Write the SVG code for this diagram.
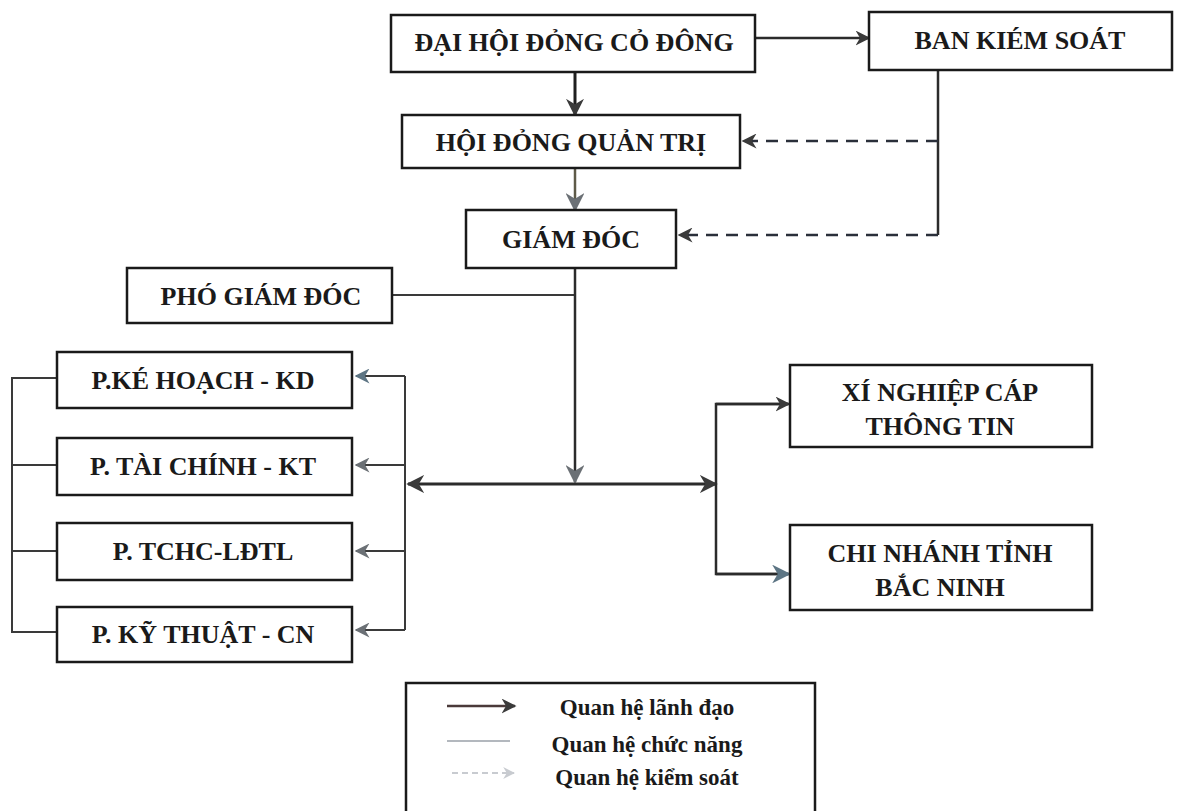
<svg xmlns="http://www.w3.org/2000/svg" width="1178" height="811" viewBox="0 0 1178 811">
<defs>
<style>
.box{fill:#fff;stroke:#1a1a1a;stroke-width:2.5}
.t{font-family:"Liberation Serif","DejaVu Serif",serif;font-weight:bold;font-size:26px;fill:#1a1a1a;text-anchor:middle}
.lg{font-family:"Liberation Serif","DejaVu Serif",serif;font-weight:bold;font-size:23px;fill:#1a1a1a;text-anchor:middle}
.ln{fill:none;stroke:#2b2b2b;stroke-width:2.5}
.fn{fill:none;stroke:#3a3a3a;stroke-width:2}
.ds{fill:none;stroke:#2a2f3a;stroke-width:2.5;stroke-dasharray:12 8}
</style>
<marker id="a" viewBox="0 0 10 10" refX="9" refY="5" markerWidth="6" markerHeight="6" orient="auto" markerUnits="strokeWidth"><path d="M0,0 L10,5 L0,10 L3,5 z" fill="#3a3a3a"/></marker>
<marker id="ag" viewBox="0 0 10 10" refX="9" refY="5" markerWidth="7.5" markerHeight="7.5" orient="auto" markerUnits="strokeWidth"><path d="M0,0 L10,5 L0,10 L3,5 z" fill="#6b7075"/></marker>
<marker id="ab" viewBox="0 0 10 10" refX="9" refY="5" markerWidth="7.5" markerHeight="7.5" orient="auto" markerUnits="strokeWidth"><path d="M0,0 L10,5 L0,10 L3,5 z" fill="#5d7584"/></marker>
<marker id="al" viewBox="0 0 10 10" refX="9" refY="5" markerWidth="6" markerHeight="6" orient="auto" markerUnits="strokeWidth"><path d="M0,0 L10,5 L0,10 L3,5 z" fill="#c8cbd0"/></marker>
</defs>
<rect width="1178" height="811" fill="#fff"/>
<g id="connectors">
<line class="ln" x1="755" y1="38" x2="869" y2="38" marker-end="url(#a)"/>
<line class="ln" x1="575" y1="72" x2="575" y2="115" marker-end="url(#a)" style="stroke:#1f1f1f;stroke-width:3"/>
<line class="ln" x1="575" y1="168" x2="575" y2="210" marker-end="url(#ag)" style="stroke:#5e5a48"/>
<polyline class="ln" points="938,70 938,235"/>
<line class="ds" x1="938" y1="141" x2="743" y2="141" marker-end="url(#a)"/>
<line class="ds" x1="938" y1="235" x2="679" y2="235" marker-end="url(#a)"/>
<line class="fn" x1="392" y1="295" x2="575" y2="295"/>
<line class="ln" x1="575" y1="268" x2="575" y2="482" marker-end="url(#ag)"/>
<line class="ln" x1="575" y1="484" x2="408" y2="484" marker-end="url(#a)" style="stroke-width:3"/>
<line class="ln" x1="575" y1="484" x2="716" y2="484" marker-end="url(#a)" style="stroke-width:3"/>
<polyline class="ln" points="788,404 716,404 716,574 788,574"/>
<line class="ln" x1="716" y1="404" x2="789" y2="404" marker-end="url(#a)"/>
<line class="ln" x1="716" y1="574" x2="789" y2="574" marker-end="url(#ab)"/>
<polyline class="fn" points="405,376 405,630"/>
<line class="fn" x1="405" y1="376" x2="356" y2="376" marker-end="url(#ab)"/>
<line class="fn" x1="405" y1="465" x2="356" y2="465" marker-end="url(#ag)"/>
<line class="fn" x1="405" y1="551" x2="356" y2="551" marker-end="url(#ag)"/>
<line class="fn" x1="405" y1="630" x2="356" y2="630" marker-end="url(#ag)"/>
<polyline class="fn" points="57,378 12,378 12,632 57,632"/>
<line class="fn" x1="12" y1="465" x2="57" y2="465"/>
<line class="fn" x1="12" y1="551" x2="57" y2="551"/>
</g>
<g id="dhdcd"><rect class="box" x="391" y="15" width="364" height="57"/><text class="t" x="574" y="51">ĐẠI HỘI ĐỎNG CỎ ĐÔNG</text></g>
<g id="bks"><rect class="box" x="869" y="12" width="303" height="58"/><text class="t" x="1020" y="49">BAN KIÉM SOÁT</text></g>
<g id="hdqt"><rect class="box" x="402" y="115" width="338" height="53"/><text class="t" x="571" y="151">HỘI ĐỎNG QUẢN TRỊ</text></g>
<g id="gd"><rect class="box" x="466" y="210" width="210" height="58"/><text class="t" x="571" y="248">GIÁM ĐÓC</text></g>
<g id="pgd"><rect class="box" x="127" y="268" width="265" height="55"/><text class="t" x="261" y="305">PHÓ GIÁM ĐÓC</text></g>
<g id="pkh"><rect class="box" x="57" y="352" width="295" height="56"/><text class="t" x="203" y="389">P.KÉ HOẠCH - KD</text></g>
<g id="ptc"><rect class="box" x="57" y="438" width="295" height="57"/><text class="t" x="203" y="475">P. TÀI CHÍNH - KT</text></g>
<g id="ptchc"><rect class="box" x="57" y="523" width="295" height="57"/><text class="t" x="203" y="560">P. TCHC-LĐTL</text></g>
<g id="pkt"><rect class="box" x="57" y="607" width="295" height="55"/><text class="t" x="203" y="643">P. KỸ THUẬT - CN</text></g>
<g id="xn"><rect class="box" x="790" y="365" width="302" height="82"/><text class="t" x="940" y="401">XÍ NGHIỆP CÁP</text><text class="t" x="940" y="435">THÔNG TIN</text></g>
<g id="cn"><rect class="box" x="790" y="525" width="302" height="85"/><text class="t" x="940" y="562">CHI NHÁNH TỈNH</text><text class="t" x="940" y="596">BẮC NINH</text></g>
<g id="legend">
<rect x="406" y="683" width="409" height="140" fill="#fff" stroke="#1a1a1a" stroke-width="2.5"/>
<line x1="447" y1="706" x2="515" y2="706" stroke="#4a3a3a" stroke-width="2.5" marker-end="url(#a)"/>
<line x1="447" y1="741" x2="510" y2="741" stroke="#9aa0a8" stroke-width="1.5"/>
<line x1="452" y1="773" x2="514" y2="773" stroke="#c8cbd0" stroke-width="2" stroke-dasharray="6 4" marker-end="url(#al)"/>
<text class="lg" x="647" y="715">Quan hệ lãnh đạo</text>
<text class="lg" x="647" y="752">Quan hệ chức năng</text>
<text class="lg" x="647" y="785">Quan hệ kiểm soát</text>
</g>
</svg>
